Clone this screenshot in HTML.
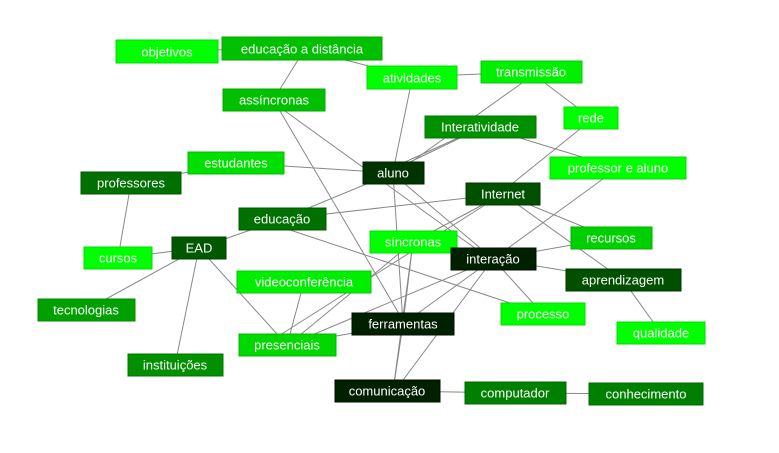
<!DOCTYPE html>
<html><head><meta charset="utf-8"><style>
body{margin:0;background:#fff;}
svg{display:block;}
text{font-family:"Liberation Sans",sans-serif;font-size:13px;fill:#fff;text-anchor:middle;dominant-baseline:central;}
line{stroke:#888;stroke-width:1;}
</style></head><body>
<svg width="779" height="453" viewBox="0 0 779 453">
<g>
<line x1="167" y1="51" x2="302" y2="48"/>
<line x1="298" y1="60" x2="280" y2="89"/>
<line x1="345" y1="60" x2="412" y2="77"/>
<line x1="457" y1="75" x2="531" y2="72"/>
<line x1="410" y1="89" x2="395" y2="162"/>
<line x1="545" y1="83" x2="591" y2="118"/>
<line x1="522" y1="83" x2="400" y2="170"/>
<line x1="458" y1="138" x2="405" y2="162"/>
<line x1="460" y1="138" x2="410" y2="162"/>
<line x1="520" y1="138" x2="618" y2="168"/>
<line x1="580" y1="129" x2="513" y2="183"/>
<line x1="280" y1="111" x2="405" y2="324"/>
<line x1="285" y1="111" x2="490" y2="259"/>
<line x1="236" y1="163" x2="393" y2="173"/>
<line x1="131" y1="183" x2="236" y2="163"/>
<line x1="131" y1="183" x2="118" y2="258"/>
<line x1="393" y1="173" x2="282" y2="219"/>
<line x1="393" y1="173" x2="403" y2="324"/>
<line x1="405" y1="184" x2="493" y2="259"/>
<line x1="282" y1="219" x2="503" y2="194"/>
<line x1="282" y1="219" x2="199" y2="248"/>
<line x1="275" y1="225" x2="543" y2="314"/>
<line x1="199" y1="248" x2="118" y2="258"/>
<line x1="199" y1="248" x2="86" y2="310"/>
<line x1="199" y1="248" x2="175" y2="365"/>
<line x1="199" y1="248" x2="287" y2="345"/>
<line x1="503" y1="194" x2="413" y2="242"/>
<line x1="503" y1="194" x2="611" y2="238"/>
<line x1="503" y1="194" x2="623" y2="280"/>
<line x1="485" y1="205" x2="280" y2="335"/>
<line x1="618" y1="168" x2="493" y2="259"/>
<line x1="493" y1="259" x2="611" y2="238"/>
<line x1="493" y1="259" x2="623" y2="280"/>
<line x1="493" y1="259" x2="543" y2="314"/>
<line x1="493" y1="259" x2="403" y2="324"/>
<line x1="493" y1="259" x2="395" y2="391"/>
<line x1="493" y1="259" x2="300" y2="340"/>
<line x1="413" y1="242" x2="403" y2="324"/>
<line x1="413" y1="242" x2="393" y2="391"/>
<line x1="413" y1="242" x2="300" y2="335"/>
<line x1="304" y1="282" x2="287" y2="345"/>
<line x1="287" y1="345" x2="403" y2="324"/>
<line x1="403" y1="324" x2="393" y2="391"/>
<line x1="393" y1="391" x2="515" y2="393"/>
<line x1="515" y1="393" x2="646" y2="394"/>
<line x1="623" y1="280" x2="661" y2="333"/>
</g>
<g stroke-width="1">
<rect x="116" y="40" width="102" height="23" fill="#00ff00" stroke="#00dd00"/><text x="167" y="52">objetivos</text>
<rect x="222" y="37" width="160" height="23" fill="#00c000" stroke="#00a800"/><text x="302" y="49">educação a distância</text>
<rect x="367" y="66" width="90" height="23" fill="#00ff00" stroke="#00dd00"/><text x="412" y="78">atividades</text>
<rect x="481" y="61" width="101" height="22" fill="#00f000" stroke="#00d000"/><text x="531" y="72">transmissão</text>
<rect x="223" y="89" width="102" height="22" fill="#00c000" stroke="#00a800"/><text x="274" y="100">assíncronas</text>
<rect x="564" y="107" width="54" height="22" fill="#00ff00" stroke="#00dd00"/><text x="591" y="118">rede</text>
<rect x="425" y="116" width="111" height="22" fill="#009000" stroke="#007800"/><text x="480" y="127">Interatividade</text>
<rect x="188" y="152" width="96" height="22" fill="#00e000" stroke="#00c000"/><text x="236" y="163">estudantes</text>
<rect x="363" y="162" width="61" height="22" fill="#003300" stroke="#002200"/><text x="393" y="173">aluno</text>
<rect x="550" y="157" width="136" height="22" fill="#00ff00" stroke="#00dd00"/><text x="618" y="168">professor e aluno</text>
<rect x="81" y="172" width="100" height="22" fill="#007000" stroke="#005800"/><text x="131" y="183">professores</text>
<rect x="466" y="183" width="74" height="22" fill="#005000" stroke="#003800"/><text x="503" y="194">Internet</text>
<rect x="239" y="208" width="87" height="22" fill="#007000" stroke="#005800"/><text x="282" y="219">educação</text>
<rect x="172" y="237" width="54" height="22" fill="#005800" stroke="#004000"/><text x="199" y="248">EAD</text>
<rect x="370" y="231" width="87" height="22" fill="#00ff00" stroke="#00dd00"/><text x="413" y="242">síncronas</text>
<rect x="571" y="227" width="81" height="22" fill="#00d000" stroke="#00b000"/><text x="611" y="238">recursos</text>
<rect x="84" y="247" width="68" height="22" fill="#00ff00" stroke="#00dd00"/><text x="118" y="258">cursos</text>
<rect x="451" y="248" width="85" height="22" fill="#002000" stroke="#001000"/><text x="493" y="259">interação</text>
<rect x="566" y="269" width="115" height="22" fill="#005000" stroke="#003800"/><text x="623" y="280">aprendizagem</text>
<rect x="237" y="271" width="134" height="22" fill="#00ee00" stroke="#00cc00"/><text x="304" y="282">videoconferência</text>
<rect x="38" y="299" width="97" height="22" fill="#00a000" stroke="#008800"/><text x="86" y="310">tecnologias</text>
<rect x="352" y="313" width="102" height="22" fill="#002000" stroke="#001000"/><text x="403" y="324">ferramentas</text>
<rect x="501" y="303" width="84" height="22" fill="#00ff00" stroke="#00dd00"/><text x="543" y="314">processo</text>
<rect x="617" y="322" width="88" height="22" fill="#00ff00" stroke="#00dd00"/><text x="661" y="333">qualidade</text>
<rect x="239" y="334" width="97" height="22" fill="#00d800" stroke="#00b800"/><text x="287" y="345">presenciais</text>
<rect x="128" y="354" width="95" height="22" fill="#009000" stroke="#007800"/><text x="175" y="365">instituições</text>
<rect x="335" y="380" width="105" height="22" fill="#002000" stroke="#001000"/><text x="387" y="391">comunicação</text>
<rect x="465" y="382" width="101" height="22" fill="#008000" stroke="#006800"/><text x="515" y="393">computador</text>
<rect x="589" y="383" width="114" height="22" fill="#008000" stroke="#006800"/><text x="646" y="394">conhecimento</text>
</g>
</svg>
</body></html>
